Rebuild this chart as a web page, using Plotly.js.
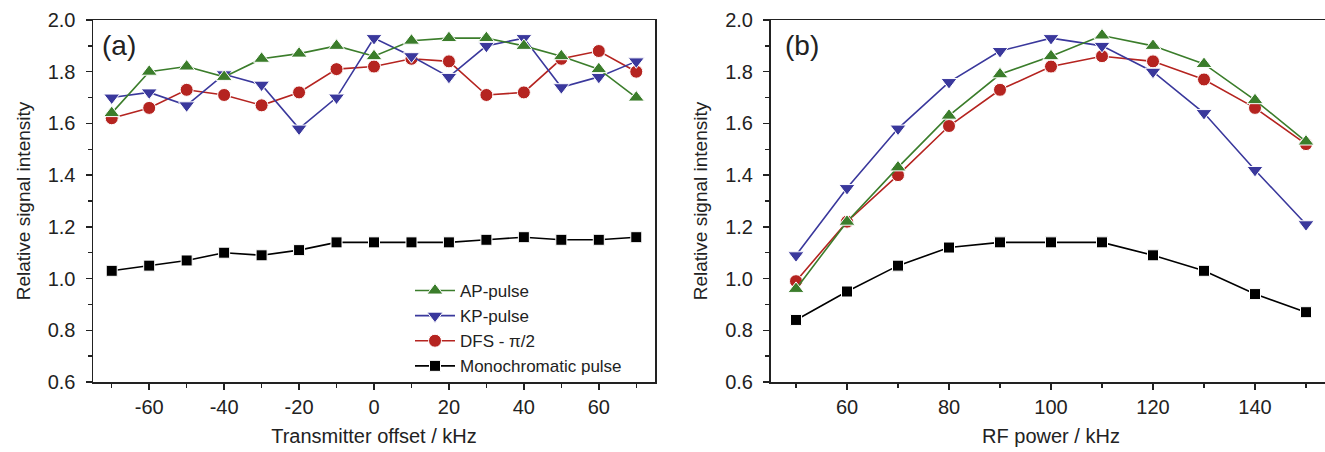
<!DOCTYPE html>
<html><head><meta charset="utf-8">
<script src="https://cdn.plot.ly/plotly-3.0.1.min.js"></script>
<style>html,body{margin:0;padding:0;overflow:hidden;background:#fff}#chart{width:1340px;height:452px}</style>
</head><body><div id="chart"></div>
<script>
// Panel (a): transmitter offset
const offsetKHz = [-70,-60,-50,-40,-30,-20,-10,0,10,20,30,40,50,60,70];
const apOffset   = [1.64,1.80,1.82,1.78,1.85,1.87,1.90,1.86,1.92,1.93,1.93,1.90,1.86,1.81,1.70];
const kpOffset   = [1.70,1.72,1.67,1.79,1.75,1.58,1.70,1.93,1.86,1.78,1.90,1.93,1.74,1.78,1.84];
const dfsOffset  = [1.62,1.66,1.73,1.71,1.67,1.72,1.81,1.82,1.85,1.84,1.71,1.72,1.85,1.88,1.80];
const monoOffset = [1.03,1.05,1.07,1.10,1.09,1.11,1.14,1.14,1.14,1.14,1.15,1.16,1.15,1.15,1.16];
const offsetTickVals = [-60,-40,-20,0,20,40,60];
const offsetTickText = ['-60','-40','-20','0','20','40','60'];

// Panel (b): RF power
const rfPowerKHz = [50,60,70,80,90,100,110,120,130,140,150];
const apPower   = [0.96,1.22,1.43,1.63,1.79,1.86,1.94,1.90,1.83,1.69,1.53];
const kpPower   = [1.09,1.35,1.58,1.76,1.88,1.93,1.90,1.80,1.64,1.42,1.21];
const dfsPower  = [0.99,1.22,1.40,1.59,1.73,1.82,1.86,1.84,1.77,1.66,1.52];
const monoPower = [0.84,0.95,1.05,1.12,1.14,1.14,1.14,1.09,1.03,0.94,0.87];

const seriesNames = ['AP-pulse','KP-pulse','DFS - π/2','Monochromatic pulse'];
const panelLabels = ['(a)','(b)'];
const xTitles = ['Transmitter offset / kHz','RF power / kHz'];
const yTitle = 'Relative signal intensity';

const styles = {
  ap:   {color:'#3b7d2b', symbol:'triangle-up',   size:14},
  kp:   {color:'#3a389c', symbol:'triangle-down', size:14},
  dfs:  {color:'#b52420', symbol:'circle',        size:13},
  mono: {color:'#000000', symbol:'square',        size:11}
};

function tr(x, y, name, st, xa, ya, show){
  return {
    x:x, y:y, name:name, type:'scatter', mode:'lines+markers',
    xaxis:xa, yaxis:ya, showlegend:show,
    line:{color:st.color, width:1.6},
    marker:{color:st.color, symbol:st.symbol, size:st.size, line:{color:'#ffffff', width:1}}
  };
}

const data = [
  tr(offsetKHz, monoOffset, seriesNames[3], styles.mono, 'x','y', true),
  tr(offsetKHz, dfsOffset,  seriesNames[2], styles.dfs,  'x','y', true),
  tr(offsetKHz, kpOffset,   seriesNames[1], styles.kp,   'x','y', true),
  tr(offsetKHz, apOffset,   seriesNames[0], styles.ap,   'x','y', true),
  tr(rfPowerKHz, monoPower, seriesNames[3], styles.mono, 'x2','y2', false),
  tr(rfPowerKHz, dfsPower,  seriesNames[2], styles.dfs,  'x2','y2', false),
  tr(rfPowerKHz, kpPower,   seriesNames[1], styles.kp,   'x2','y2', false),
  tr(rfPowerKHz, apPower,   seriesNames[0], styles.ap,   'x2','y2', false)
];

const FONT = 'Liberation Sans, Arial, sans-serif';
const axCommon = {
  showline:true, linecolor:'#222', linewidth:1.5, mirror:true,
  ticks:'outside', ticklen:6, tickwidth:1.5, tickcolor:'#222',
  showgrid:false, zeroline:false,
  tickfont:{family:FONT, size:20, color:'#222'}
};
const W = 1340;
function xax(domain, range, title, anchor, extra){
  return Object.assign({}, axCommon, {
    domain:domain, range:range, dtick:20, tick0:0, anchor:anchor,
    minor:{dtick:10, tick0:0, ticks:'outside', ticklen:4, tickwidth:1.5, tickcolor:'#222'},
    title:{text:title, font:{family:FONT, size:20, color:'#222'}, standoff:12}
  }, extra || {});
}
function yax(anchor){
  return Object.assign({}, axCommon, {
    domain:[0,1], range:[0.6,2.0], dtick:0.2, tick0:0, tickformat:'.1f', anchor:anchor,
    ticklabelstandoff:6,
    minor:{dtick:0.1, tick0:0, ticks:'outside', ticklen:4, tickwidth:1.5, tickcolor:'#222'},
    title:{text:yTitle, font:{family:FONT, size:19, color:'#222'}, standoff:12}
  });
}

const layout = {
  width:W, height:452,
  margin:{l:0, r:0, t:20, b:70},
  paper_bgcolor:'#fff', plot_bgcolor:'#fff',
  font:{family:FONT, color:'#222'},
  xaxis: xax([93/W, 655/W], [-75,75], xTitles[0], 'y', {tickmode:'array', tickvals:offsetTickVals, ticktext:offsetTickText}),
  yaxis: yax('x'),
  xaxis2: xax([770.5/W, 1331.5/W], [45,155], xTitles[1], 'y2'),
  yaxis2: yax('x2'),
  showlegend:true,
  legend:{x:410/W, xanchor:'left', y:(382-273)/362, yanchor:'top', yref:'paper',
    traceorder:'reversed', bgcolor:'rgba(0,0,0,0)', borderwidth:0,
    font:{family:FONT, size:17, color:'#222'}, tracegroupgap:0, itemwidth:40},
  annotations:[
    {text:panelLabels[0], xref:'paper', yref:'paper', x:100/W, y:1-(45-20)/362, xanchor:'left', yanchor:'middle', showarrow:false, font:{family:FONT, size:28, color:'#222'}},
    {text:panelLabels[1], xref:'paper', yref:'paper', x:783/W, y:1-(45-20)/362, xanchor:'left', yanchor:'middle', showarrow:false, font:{family:FONT, size:28, color:'#222'}}
  ]
};

Plotly.newPlot('chart', data, layout, {displayModeBar:false, staticPlot:true});
</script>
</body></html>
